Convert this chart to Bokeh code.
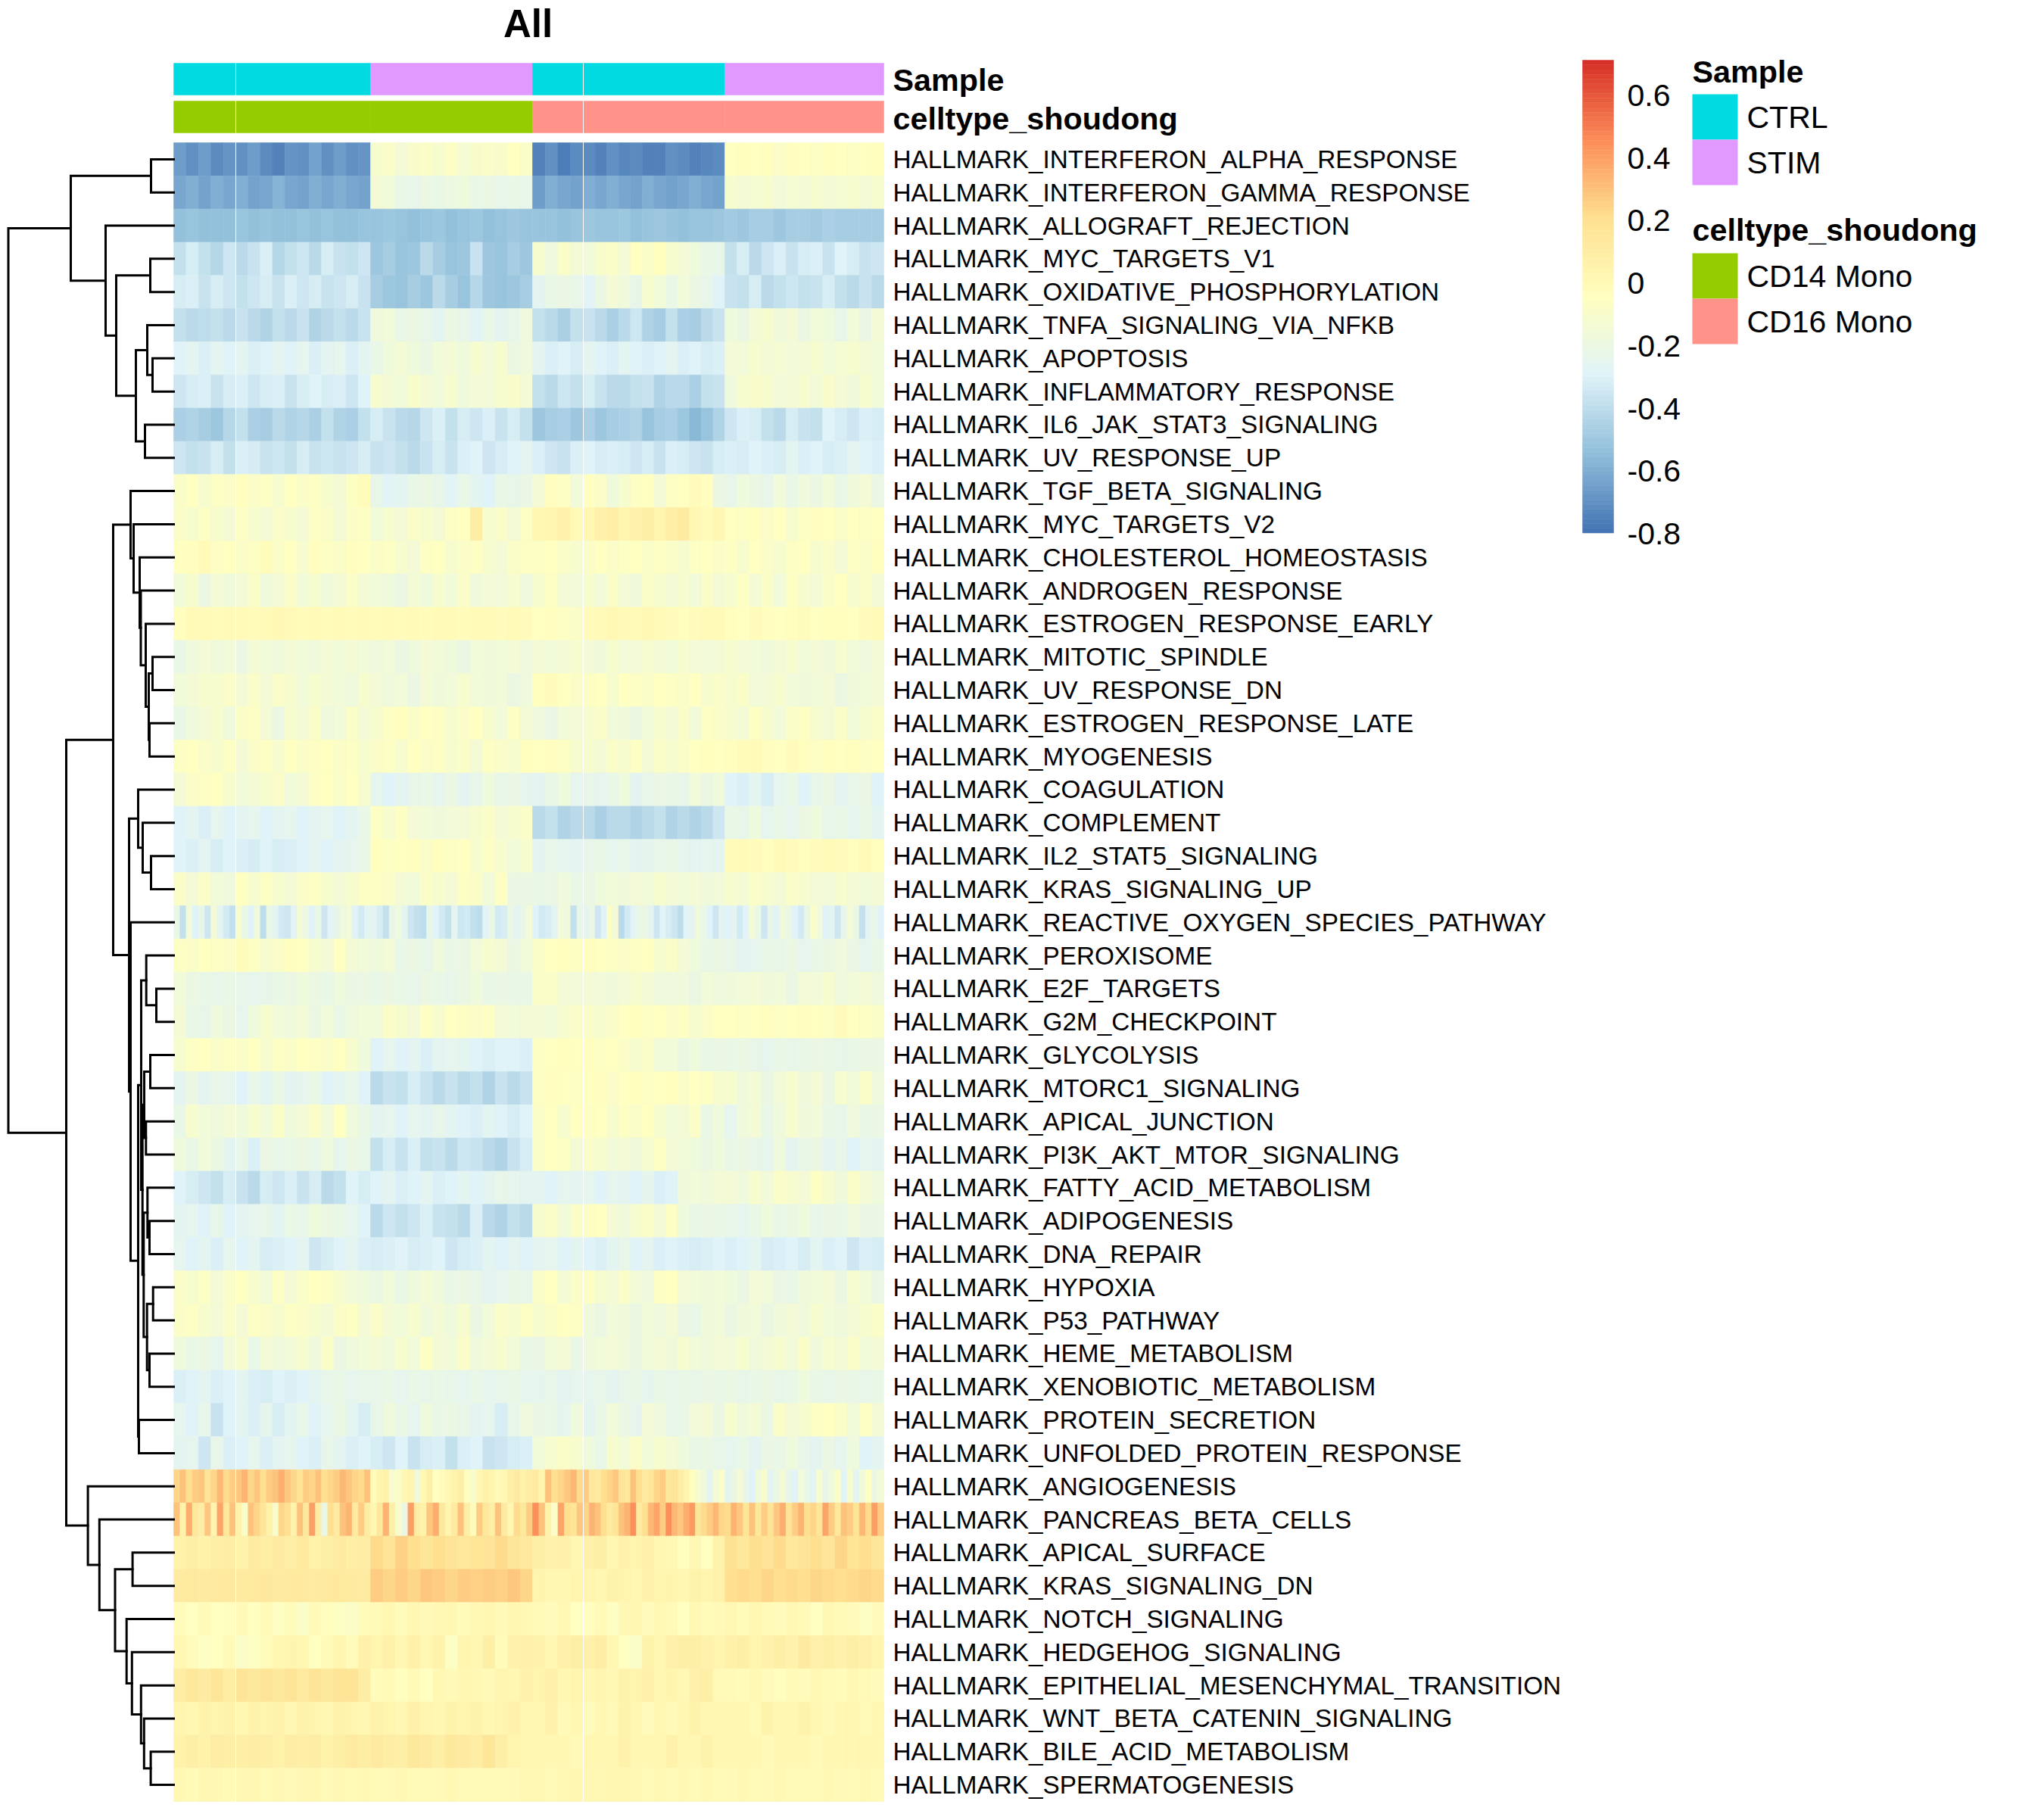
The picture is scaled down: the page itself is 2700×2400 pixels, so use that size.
from bokeh.plotting import figure
from bokeh.models import Range1d, ColumnDataSource, LinearColorMapper
from bokeh.transform import transform
from bokeh.core.properties import value
from bokeh.embed import file_html
from bokeh.resources import INLINE
import numpy as np

TITLE = "All"
ANNOT_NAMES = ["Sample", "celltype_shoudong"]
BLOCK_CELLS = [82, 178, 214, 67, 187, 210]
SAMPLE_OF_BLOCK = ["CTRL", "CTRL", "STIM", "CTRL", "CTRL", "STIM"]
TYPE_OF_BLOCK = ["CD14 Mono", "CD14 Mono", "CD14 Mono", "CD16 Mono", "CD16 Mono", "CD16 Mono"]
SAMPLE_LEVELS = ["CTRL", "STIM"]
SAMPLE_COLORS = ["#00DAE0", "#E199FF"]
TYPE_LEVELS = ["CD14 Mono", "CD16 Mono"]
TYPE_COLORS = ["#95CC00", "#FF9289"]
SCALE_LOW = -0.8
SCALE_HIGH = 0.71
SCALE_TICKS = [0.6, 0.4, 0.2, 0.0, -0.2, -0.4, -0.6, -0.8]
BREWER = ["#4575B4", "#91BFDB", "#E0F3F8", "#FFFFBF", "#FEE090", "#FC8D59", "#D73027"]

# Scores in hundredths, averaged by eye over short runs of cells, one list per column block
INTERFERON_ALPHA = [[-66,-70,-66,-72,-68],[-70,-66,-72,-74,-68,-70,-64,-70,-66,-70,-68],[-11,-8,-15,-10,-9,-11,-7,-13,-10,-8,-10,-6,-8],[-74,-70,-76,-72],[-72,-74,-70,-73,-71,-75,-74,-70,-72,-74,-73,-72],[-5,-3,-6,-3,-8,-4,-6,-7,-3,-5,-7,-6,-3]]
INTERFERON_GAMMA = [[-62,-60,-64,-60,-62],[-60,-64,-62,-58,-62,-64,-60,-62,-60,-62,-64],[-14,-16,-22,-24,-20,-22,-19,-18,-22,-20,-24,-22,-24],[-66,-60,-62,-64],[-60,-62,-60,-62,-64,-60,-62,-64,-62,-60,-63,-64],[-12,-14,-13,-12,-16,-13,-14,-12,-14,-13,-11,-14,-12]]
ALLOGRAFT = [[-53,-52,-54,-53,-53],[-52,-54,-52,-53,-54,-52,-53,-52,-54,-53,-52],[-52,-50,-52,-53,-52,-50,-53,-52,-51,-53,-52,-50,-52],[-52,-52,-53,-52],[-51,-52,-52,-51,-53,-52,-51,-52,-53,-52,-52,-51],[-49,-50,-47,-48,-50,-47,-48,-49,-46,-48,-47,-48,-47]]
MYC_V1 = [[-38,-33,-39,-43,-36],[-41,-37,-31,-43,-39,-35,-41,-33,-37,-39,-35],[-50,-48,-52,-50,-42,-48,-52,-50,-37,-50,-52,-48,-50],[-11,-18,-9,-14],[-16,-10,-8,-14,-5,-9,-3,-12,-14,-18,-22,-24],[-39,-33,-41,-35,-31,-37,-33,-31,-37,-29,-33,-37,-35]]
OXPHOS = [[-33,-31,-37,-33,-35],[-39,-35,-33,-37,-31,-35,-33,-37,-35,-33,-37],[-48,-50,-52,-47,-50,-41,-47,-52,-43,-50,-52,-50,-47],[-26,-22,-20,-24],[-28,-20,-14,-18,-24,-12,-16,-22,-16,-20,-24,-29],[-37,-39,-33,-41,-39,-35,-39,-37,-33,-39,-41,-37,-41]]
TNFA = [[-38,-42,-40,-38,-42],[-37,-41,-44,-39,-41,-37,-44,-42,-39,-41,-37],[-18,-16,-22,-20,-24,-26,-20,-24,-28,-22,-26,-24,-18],[-39,-42,-46,-39],[-37,-41,-46,-41,-35,-44,-48,-39,-46,-48,-41,-37],[-18,-20,-14,-12,-18,-14,-20,-16,-18,-24,-16,-20,-14]]
APOPTOSIS = [[-29,-27,-31,-27,-29],[-27,-31,-29,-27,-29,-25,-31,-27,-25,-31,-27],[-22,-18,-14,-18,-20,-16,-14,-18,-12,-16,-12,-20,-18],[-27,-31,-29,-33],[-27,-29,-31,-27,-29,-31,-29,-27,-31,-29,-33,-31],[-14,-16,-12,-14,-13,-16,-14,-12,-16,-13,-12,-14,-16]]
INFLAMMATORY = [[-35,-33,-31,-37,-33],[-31,-35,-33,-31,-37,-33,-29,-33,-31,-35,-29],[-12,-14,-16,-10,-14,-16,-12,-18,-14,-16,-12,-10,-14],[-39,-41,-35,-39],[-33,-37,-41,-42,-39,-37,-44,-42,-41,-46,-39,-37],[-18,-12,-10,-12,-16,-14,-12,-16,-10,-14,-18,-12,-16]]
IL6 = [[-46,-44,-48,-50,-43],[-39,-46,-48,-41,-44,-43,-46,-39,-44,-46,-39],[-33,-37,-41,-43,-35,-31,-39,-33,-35,-31,-37,-33,-39],[-50,-48,-46,-50],[-46,-50,-48,-46,-44,-52,-48,-46,-50,-56,-52,-44],[-35,-31,-33,-39,-41,-33,-37,-39,-29,-33,-35,-31,-33]]
UV_UP = [[-35,-39,-37,-33,-39],[-31,-33,-37,-35,-39,-33,-37,-35,-37,-35,-33],[-37,-35,-39,-41,-37,-33,-37,-31,-29,-35,-33,-29,-27],[-31,-35,-37,-31],[-29,-33,-31,-33,-35,-33,-37,-31,-33,-35,-37,-33],[-31,-33,-29,-31,-33,-27,-31,-29,-33,-31,-27,-29,-31]]
TGF_BETA = [[-9,-5,-12,-7,-9],[-3,-9,-7,-12,-5,-9,-7,-12,-14,-7,-2],[-24,-28,-26,-22,-20,-24,-28,-22,-26,-29,-22,-24,-20],[-14,-3,-7,-16],[-5,-9,-18,-12,-7,-5,-14,-7,-5,-2,-3,-20],[-24,-18,-20,-24,-16,-22,-18,-20,-16,-22,-18,-14,-20]]
MYC_V2 = [[-9,-12,-7,-12,-14],[-7,-12,-14,-9,-12,-14,-7,-9,-14,-9,-7],[-16,-12,-14,-9,-12,-14,-7,-5,10,-12,-9,-14,-7],[2,4,5,0],[3,7,8,4,5,9,4,8,11,2,-2,3],[-5,-7,-3,-9,-5,-12,-7,-3,-5,-9,-5,-7,-5]]
CHOLESTEROL = [[-5,-3,0,-7,-5],[-9,-7,-2,-9,-5,-12,-3,-7,-9,-3,-5],[-9,-7,-12,-14,-7,-5,-12,-9,-7,-12,-14,-9,-7],[-7,-5,-9,-12],[-9,-5,-9,-7,-5,-9,-7,-9,-12,-7,-5,-9],[-7,-12,-5,-9,-12,-7,-5,-12,-9,-14,-7,-9,-3]]
ANDROGEN = [[-16,-12,-20,-14,-18],[-14,-9,-18,-14,-9,-16,-12,-18,-14,-9,-14],[-16,-18,-20,-14,-18,-12,-16,-9,-18,-14,-16,-12,-18],[-12,-7,-14,-16],[-12,-16,-9,-14,-18,-9,-12,-14,-12,-16,-9,-14],[-12,-7,-14,-9,-16,-7,-12,-14,-9,-5,-12,-9,-14]]
ESTROGEN_EARLY = [[-3,-1,0,-2,0],[-1,-2,0,1,0,-2,-1,-2,0,-2,-1],[-2,0,-2,-1,-2,0,-1,-2,0,-1,-2,-1,-2],[-5,-3,-7,-9],[-2,0,1,-1,0,1,-1,-2,-3,-2,0,0],[-3,-5,-2,-3,-5,-3,-2,-5,-3,-3,-5,-2,-1]]
MITOTIC = [[-22,-18,-14,-18,-16],[-20,-14,-16,-18,-14,-16,-18,-14,-16,-14,-16],[-18,-16,-20,-18,-14,-16,-18,-20,-16,-18,-16,-14,-18],[-14,-16,-14,-12],[-14,-18,-12,-16,-14,-12,-14,-16,-12,-14,-16,-14],[-12,-14,-16,-18,-14,-12,-16,-14,-18,-12,-16,-18,-14]]
UV_DN = [[-16,-14,-12,-12,-9],[-14,-9,-14,-9,-12,-16,-12,-14,-16,-18,-12],[-14,-18,-16,-20,-14,-18,-16,-12,-16,-18,-16,-20,-18],[-3,-2,-5,-9],[-7,-5,-12,-5,-7,-9,-5,-7,-9,-5,-12,-9],[-12,-9,-16,-14,-12,-16,-18,-16,-14,-20,-18,-16,-14]]
ESTROGEN_LATE = [[-22,-18,-14,-12,-18],[-9,-7,-14,-20,-12,-14,-9,-18,-16,-9,-14],[-12,-7,-3,-9,-5,-7,-12,-9,-5,-12,-16,-7,-14],[-18,-20,-16,-14],[-12,-9,-16,-18,-20,-16,-12,-14,-9,-16,-7,-9],[-12,-14,-7,-12,-16,-9,-7,-12,-14,-9,-16,-12,-9]]
MYOGENESIS = [[-7,-5,-9,-12,-7],[-14,-9,-7,-12,-5,-9,-7,-5,-9,-7,-12],[-9,-7,-12,-5,-9,-7,-12,-9,-14,-7,-9,-12,-3],[-5,-3,-7,-12],[-12,-14,-9,-12,-7,-14,-9,-12,-9,-5,-3,-5],[-3,-2,0,-3,-5,-2,-3,-7,-3,-5,-3,-7,-5]]
COAGULATION = [[-14,-9,-7,-5,-12],[-16,-14,-12,-9,-16,-14,-7,-5,-9,-5,-12],[-25,-29,-27,-24,-22,-25,-20,-27,-24,-18,-24,-20,-25],[-27,-22,-18,-25],[-24,-25,-22,-18,-27,-24,-20,-22,-24,-16,-20,-18],[-29,-31,-27,-33,-25,-22,-29,-24,-20,-27,-24,-20,-29]]
COMPLEMENT = [[-29,-27,-31,-25,-29],[-27,-25,-29,-27,-25,-29,-27,-25,-29,-27,-22],[-7,-12,-7,-14,-16,-18,-16,-14,-12,-9,-14,-12,-9],[-42,-39,-44,-41],[-42,-46,-42,-41,-44,-42,-39,-44,-41,-44,-41,-35],[-22,-24,-18,-25,-22,-25,-20,-18,-24,-22,-25,-22,-27]]
IL2_STAT5 = [[-29,-31,-27,-33,-29],[-31,-33,-29,-33,-31,-29,-27,-29,-27,-25,-22],[-3,-7,-5,-3,-9,-3,-7,-5,-12,-7,-12,-16,-12],[-27,-24,-25,-27],[-24,-22,-25,-24,-27,-25,-24,-22,-25,-27,-25,-27],[-2,0,-2,-3,0,-2,-3,-2,0,-2,-3,0,-3]]
KRAS_UP = [[-9,-14,-9,-16,-18],[-5,-12,-7,-12,-14,-9,-7,-12,-14,-12,-7],[-7,-9,-14,-16,-9,-12,-14,-7,-9,-16,-7,-20,-20],[-22,-20,-18,-22],[-20,-18,-16,-18,-14,-16,-12,-14,-16,-14,-18,-16],[-12,-14,-9,-12,-14,-9,-12,-14,-16,-12,-14,-16,-14]]
ROS = [[-22,-38,-16,-30,-24,-36,-14,-26,-34,-38],[-12,-22,-30,-18,-40,-22,-26,-34,-36,-28,-14,-20,-30,-22,-36,-28,-24,-18,-16,-30,-34,-26],[-26,-32,-38,-24,-18,-26,-36,-38,-40,-24,-30,-34,-38,-26,-36,-34,-38,-40,-28,-22,-34,-32,-20,-26,-22,-14],[-30,-34,-32,-26,-16,-18,-38,-24],[-26,-20,-36,-30,-8,-14,-42,-34,-28,-22,-20,-26,-36,-28,-32,-36,-40,-28,-26,-18,-22,-30,-36,-26],[-30,-26,-34,-28,-14,-22,-36,-24,-28,-18,-20,-30,-34,-24,-8,-16,-30,-26,-36,-24,-14,-22,-38,-26,-24,-30]]
PEROXISOME = [[-7,-9,-5,-7,-9],[-2,-7,-12,-9,-3,-5,-12,-14,-5,-14,-16],[-18,-14,-22,-20,-24,-18,-22,-20,-16,-12,-14,-20,-16],[-9,-5,-3,-7],[-3,-5,-7,-9,-7,-5,-12,-9,-14,-18,-22,-20],[-24,-27,-25,-22,-24,-20,-25,-22,-20,-18,-20,-25,-22]]
E2F = [[-16,-20,-22,-24,-22],[-24,-25,-24,-22,-20,-18,-20,-22,-18,-20,-20],[-22,-20,-22,-24,-20,-22,-24,-20,-18,-22,-20,-22,-22],[-9,-9,-14,-16],[-14,-16,-18,-14,-12,-14,-18,-18,-18,-20,-16,-18],[-18,-16,-14,-18,-16,-20,-14,-16,-12,-18,-16,-14,-18]]
G2M = [[-14,-22,-24,-18,-20],[-25,-18,-12,-16,-18,-14,-20,-16,-22,-18,-16],[-16,-9,-12,-14,-7,-12,-5,-7,-9,-7,-14,-16,-14],[-14,-16,-12,-9],[-9,-12,-9,-5,-3,-7,-5,-9,-7,-12,-9,-5],[-5,-7,-5,-3,-7,-5,-3,-5,-7,-2,-5,-7,-9]]
GLYCOLYSIS = [[-12,-7,-5,-9,-7],[-9,-5,-12,-7,-9,-5,-7,-9,-5,-12,-18],[-29,-25,-29,-27,-31,-27,-25,-27,-29,-31,-29,-29,-31],[-7,-5,-3,-5],[-3,-7,-5,-9,-12,-9,-16,-16,-20,-18,-22,-20],[-22,-20,-24,-25,-22,-24,-22,-20,-22,-24,-22,-20,-20]]
MTORC1 = [[-27,-20,-27,-24,-25],[-29,-24,-27,-22,-27,-25,-22,-29,-27,-24,-29],[-41,-37,-39,-33,-37,-41,-37,-42,-39,-44,-37,-42,-37],[-7,-3,-5,-7],[-5,-3,-9,-5,-3,-7,-5,-3,-9,-5,-7,-12],[-12,-18,-14,-20,-16,-12,-18,-14,-20,-12,-16,-9,-18]]
APICAL_JUNCTION = [[-22,-12,-16,-18,-14],[-18,-12,-16,-9,-18,-14,-9,-16,-5,-18,-22],[-27,-25,-29,-25,-27,-24,-27,-29,-31,-27,-29,-33,-29],[-9,-5,-12,-5],[-7,-5,-12,-7,-9,-5,-12,-16,-14,-9,-22,-18],[-25,-18,-14,-22,-18,-12,-18,-16,-22,-24,-18,-22,-20]]
PI3K = [[-18,-22,-16,-20,-27],[-24,-31,-20,-24,-22,-20,-24,-18,-25,-20,-24],[-39,-33,-37,-31,-39,-37,-42,-35,-37,-41,-44,-37,-33],[-9,-5,-7,-14],[-9,-12,-16,-14,-18,-12,-7,-14,-16,-18,-20,-18],[-22,-20,-24,-25,-18,-27,-22,-20,-27,-24,-29,-25,-27]]
FATTY_ACID = [[-29,-33,-35,-39,-33],[-37,-41,-33,-35,-31,-37,-33,-42,-39,-29,-33],[-29,-27,-31,-29,-27,-31,-29,-27,-29,-27,-24,-25,-27],[-27,-29,-25,-27],[-25,-29,-25,-27,-29,-25,-31,-29,-18,-16,-18,-14],[-14,-18,-12,-16,-9,-12,-14,-7,-12,-18,-9,-14,-18]]
ADIPOGENESIS = [[-27,-25,-29,-24,-29],[-27,-25,-24,-27,-22,-24,-18,-20,-22,-25,-29],[-41,-35,-39,-35,-31,-37,-39,-41,-31,-41,-44,-39,-41],[-12,-9,-16,-9],[-7,-5,-14,-18,-12,-9,-14,-7,-18,-22,-20,-22],[-24,-25,-22,-18,-22,-20,-18,-24,-20,-22,-18,-20,-20]]
DNA_REPAIR = [[-25,-29,-27,-31,-25],[-29,-27,-33,-31,-29,-27,-35,-33,-29,-27,-31],[-33,-31,-29,-33,-31,-29,-35,-33,-31,-27,-29,-27,-29],[-27,-25,-29,-27],[-29,-31,-27,-24,-29,-27,-31,-29,-31,-33,-31,-29],[-31,-29,-27,-33,-31,-29,-33,-27,-31,-29,-35,-31,-33]]
HYPOXIA = [[-9,-12,-7,-14,-9],[-5,-12,-16,-7,-14,-9,-5,-7,-12,-16,-18],[-20,-16,-22,-18,-14,-18,-22,-20,-24,-27,-25,-22,-24],[-9,-5,-14,-9],[-7,-12,-14,-9,-16,-18,-7,-5,-14,-16,-18,-16],[-18,-20,-14,-16,-20,-22,-18,-16,-14,-20,-12,-16,-20]]
P53 = [[-9,-7,-12,-14,-9],[-14,-7,-9,-12,-7,-9,-12,-14,-9,-7,-14],[-9,-14,-16,-12,-18,-14,-18,-12,-20,-16,-9,-12,-7],[-12,-9,-5,-7],[-18,-20,-16,-18,-20,-16,-18,-14,-20,-22,-18,-16],[-20,-18,-16,-20,-18,-14,-18,-12,-16,-18,-14,-12,-9]]
HEME = [[-18,-22,-20,-25,-16],[-12,-22,-14,-18,-16,-12,-18,-9,-20,-18,-16],[-14,-18,-12,-16,-7,-14,-16,-9,-18,-14,-12,-16,-22],[-20,-16,-14,-22],[-18,-16,-14,-18,-20,-16,-14,-18,-12,-16,-18,-14],[-16,-12,-18,-14,-12,-16,-9,-18,-12,-14,-9,-16,-14]]
XENOBIOTIC = [[-31,-29,-27,-31,-29],[-27,-31,-33,-29,-31,-29,-27,-24,-22,-25,-24],[-24,-22,-25,-22,-24,-22,-24,-25,-22,-25,-24,-22,-25],[-25,-24,-27,-25],[-25,-24,-27,-24,-22,-25,-22,-24,-22,-24,-20,-22],[-20,-24,-22,-20,-24,-22,-18,-22,-24,-20,-22,-24,-22]]
PROTEIN_SECRETION = [[-25,-29,-24,-37,-29],[-27,-31,-25,-33,-27,-24,-29,-25,-20,-27,-33],[-24,-18,-22,-25,-18,-22,-20,-24,-27,-25,-33,-24,-18],[-20,-22,-25,-18],[-27,-22,-16,-20,-25,-14,-18,-24,-22,-16,-14,-20],[-12,-18,-14,-20,-9,-14,-12,-7,-5,-9,-16,-7,-14]]
UPR = [[-27,-25,-35,-24,-31],[-29,-25,-31,-27,-25,-29,-31,-24,-27,-31,-29],[-33,-35,-29,-37,-33,-31,-39,-31,-29,-37,-35,-33,-31],[-16,-12,-9,-12],[-18,-22,-12,-16,-9,-16,-12,-14,-18,-22,-20,-24],[-25,-22,-27,-20,-22,-18,-24,-27,-20,-25,-18,-29,-27]]
ANGIOGENESIS = [[24,30,20,26,28,18,24,32,22,26],[28,34,24,28,20,26,30,36,28,24,18,26,24,30,20,24,26,32,28,24,22,30],[-2,4,6,-12,-8,2,4,-18,2,8,-6,-2,2,6,8,-4,-10,2,6,4,0,2,8,12,6,10],[12,4,30,20,24,28,32,22],[26,14,12,20,24,28,18,14,30,20,12,16,24,26,14,18,10,4,-4,-12,-18,-26,-14,-8],[-26,-20,-14,-24,-30,-18,-10,-26,-20,-14,-24,-30,-16,-22,-28,-12,-24,-18,-8,-28,-12,-26,-16,-6,-20,-14]]
PANCREAS_BETA = [[30,6,36,14,10,28,4,38,14,30],[6,-8,30,24,16,6,-10,24,20,6,30,14,40,10,-22,20,12,30,34,12,26,10],[2,14,34,8,-10,-20,40,10,6,28,36,14,4,12,30,8,-2,26,14,8,30,12,2,22,14,26],[44,30,6,-8,38,20,16,28],[24,34,30,20,12,16,30,34,44,12,20,32,38,26,44,32,28,36,42,16,22,26,32,24],[22,34,28,16,30,14,26,18,28,36,18,26,34,20,24,16,38,26,14,30,26,18,32,22,40,26]]
APICAL_SURFACE = [[6,8,5,9,10],[6,12,8,11,9,13,6,8,11,9,10],[22,18,25,20,16,21,18,14,16,18,22,16,13],[8,6,7,3],[7,8,3,6,4,7,3,1,-3,1,-6,5],[19,15,20,17,22,15,18,20,16,23,18,21,16]]
KRAS_DN = [[12,13,12,13,13],[12,13,13,12,13,13,12,13,13,12,11],[26,24,26,24,28,26,24,26,25,27,25,28,24],[4,3,2,4],[4,3,5,4,2,5,4,4,3,5,4,6],[20,22,21,23,20,22,21,23,22,20,22,23,22]]
NOTCH = [[-2,-6,-1,-5,-3],[-1,-5,0,-7,-2,-9,-1,-3,-7,-9,-2],[0,2,-2,3,0,1,3,-2,1,2,0,3,1],[0,-2,1,-5],[-3,0,-7,1,2,-2,1,0,-5,1,-2,0],[1,-2,2,0,-2,1,0,-5,1,0,-2,-7,-2]]
HEDGEHOG = [[2,-2,-7,-5,0],[-9,-7,-2,3,4,2,-5,0,4,-2,7],[4,7,2,7,3,5,-7,4,2,8,-2,5,7],[5,2,7,8],[7,10,3,-5,-9,5,3,7,8,9,5,4],[7,9,4,5,9,5,11,7,9,5,8,7,4]]
EMT = [[10,14,12,16,10],[17,15,18,15,17,13,17,15,18,17,10],[-2,0,-3,0,-5,1,0,3,1,0,4,3,5],[4,7,3,4],[3,4,1,5,4,7,3,4,1,7,8,0],[0,-2,1,-2,-3,0,-2,1,0,-2,1,0,-2]]
WNT = [[4,2,5,4,6],[2,5,4,6,2,5,4,2,6,4,2],[5,4,2,7,4,2,5,4,6,2,4,5,2],[2,5,0,2],[-2,3,0,5,2,-2,3,0,3,5,2,3],[3,2,0,5,3,2,5,2,0,3,2,0,3]]
BILE_ACID = [[6,8,6,10,8],[8,10,8,6,10,8,10,6,8,12,10],[12,10,8,14,12,8,14,12,10,16,8,4,2],[3,2,3,0],[2,3,2,5,3,2,3,5,2,3,5,2],[2,3,2,0,3,2,3,0,2,3,2,3,2]]
SPERMATOGENESIS = [[1,0,2,1,0],[1,2,0,1,0,1,2,0,1,0,1],[-1,0,1,-1,0,-1,1,0,-1,0,-1,0,1],[1,0,1,2],[2,1,3,2,1,0,1,0,1,0,1,0],[0,1,-1,0,1,0,-1,0,1,-1,0,1,0]]

PATHWAYS = [
    ("HALLMARK_INTERFERON_ALPHA_RESPONSE", INTERFERON_ALPHA), ("HALLMARK_INTERFERON_GAMMA_RESPONSE", INTERFERON_GAMMA),
    ("HALLMARK_ALLOGRAFT_REJECTION", ALLOGRAFT), ("HALLMARK_MYC_TARGETS_V1", MYC_V1),
    ("HALLMARK_OXIDATIVE_PHOSPHORYLATION", OXPHOS), ("HALLMARK_TNFA_SIGNALING_VIA_NFKB", TNFA),
    ("HALLMARK_APOPTOSIS", APOPTOSIS), ("HALLMARK_INFLAMMATORY_RESPONSE", INFLAMMATORY),
    ("HALLMARK_IL6_JAK_STAT3_SIGNALING", IL6), ("HALLMARK_UV_RESPONSE_UP", UV_UP),
    ("HALLMARK_TGF_BETA_SIGNALING", TGF_BETA), ("HALLMARK_MYC_TARGETS_V2", MYC_V2),
    ("HALLMARK_CHOLESTEROL_HOMEOSTASIS", CHOLESTEROL), ("HALLMARK_ANDROGEN_RESPONSE", ANDROGEN),
    ("HALLMARK_ESTROGEN_RESPONSE_EARLY", ESTROGEN_EARLY), ("HALLMARK_MITOTIC_SPINDLE", MITOTIC),
    ("HALLMARK_UV_RESPONSE_DN", UV_DN), ("HALLMARK_ESTROGEN_RESPONSE_LATE", ESTROGEN_LATE),
    ("HALLMARK_MYOGENESIS", MYOGENESIS), ("HALLMARK_COAGULATION", COAGULATION),
    ("HALLMARK_COMPLEMENT", COMPLEMENT), ("HALLMARK_IL2_STAT5_SIGNALING", IL2_STAT5),
    ("HALLMARK_KRAS_SIGNALING_UP", KRAS_UP), ("HALLMARK_REACTIVE_OXYGEN_SPECIES_PATHWAY", ROS),
    ("HALLMARK_PEROXISOME", PEROXISOME), ("HALLMARK_E2F_TARGETS", E2F),
    ("HALLMARK_G2M_CHECKPOINT", G2M), ("HALLMARK_GLYCOLYSIS", GLYCOLYSIS),
    ("HALLMARK_MTORC1_SIGNALING", MTORC1), ("HALLMARK_APICAL_JUNCTION", APICAL_JUNCTION),
    ("HALLMARK_PI3K_AKT_MTOR_SIGNALING", PI3K), ("HALLMARK_FATTY_ACID_METABOLISM", FATTY_ACID),
    ("HALLMARK_ADIPOGENESIS", ADIPOGENESIS), ("HALLMARK_DNA_REPAIR", DNA_REPAIR),
    ("HALLMARK_HYPOXIA", HYPOXIA), ("HALLMARK_P53_PATHWAY", P53),
    ("HALLMARK_HEME_METABOLISM", HEME), ("HALLMARK_XENOBIOTIC_METABOLISM", XENOBIOTIC),
    ("HALLMARK_PROTEIN_SECRETION", PROTEIN_SECRETION), ("HALLMARK_UNFOLDED_PROTEIN_RESPONSE", UPR),
    ("HALLMARK_ANGIOGENESIS", ANGIOGENESIS), ("HALLMARK_PANCREAS_BETA_CELLS", PANCREAS_BETA),
    ("HALLMARK_APICAL_SURFACE", APICAL_SURFACE), ("HALLMARK_KRAS_SIGNALING_DN", KRAS_DN),
    ("HALLMARK_NOTCH_SIGNALING", NOTCH), ("HALLMARK_HEDGEHOG_SIGNALING", HEDGEHOG),
    ("HALLMARK_EPITHELIAL_MESENCHYMAL_TRANSITION", EMT), ("HALLMARK_WNT_BETA_CATENIN_SIGNALING", WNT),
    ("HALLMARK_BILE_ACID_METABOLISM", BILE_ACID), ("HALLMARK_SPERMATOGENESIS", SPERMATOGENESIS),
]

# Row tree: (merge height, upper branch, lower branch); an int is a row index
DENDRO = (218.5,
    (136, (30, 0, 1),
          (90, 2, (76, (31, 3, 4),
                       (50, (35, 5, (28, 6, 7)), (38, 8, 9))))),
    (142,
        (80,
            (57, 10, (53, 11, (45, 12, (43.5, 13, (37, 14, (33, (28, 15, 16), (32, 17, 18))))))),
            (59,
                (47, 19, (41, 20, (30, 21, 22))),
                (57, 23,
                    (47,
                        (43, (36.3, 24, (23, 25, 26)),
                             (41.3, (39, (31, 27, 28), (36.7, 29, 30)),
                                    (39.7, (34.7, 31, (32, 32, 33)),
                                           (35.3, (27.3, 34, 35), (32, 36, 37))))),
                        (46, 38, 39))))),
        (113.4, 40,
            (98.2, 41,
                (77.5, (54.4, 42, 43),
                    (62.3, 44, (55.2, 45, (43.2, 46, (39.2, 47, (30.4, 48, 49))))))))))

# Page layout in picture pixels
LEFT, TOP, BOTTOM = 229.0, 188.0, 2379.0
W, H = 2684, 2384
p = figure(width=W, height=H, x_range=Range1d(0, W), y_range=Range1d(H, 0),
           output_backend="svg", toolbar_location=None, min_border=0, outline_line_color=None)
p.axis.visible = False
p.grid.visible = False
p.background_fill_color = "white"

FONT = value("Liberation Sans")
def label(x, y, s, size, bold=False, align="left"):
    p.text([x], [y], text=[s], text_font=FONT, text_font_size=f"{size}px",
           text_font_style="bold" if bold else "normal", text_align=align,
           text_baseline="middle", text_color="black")

def ramp(colors, n):
    rgb = np.array([[int(c[i:i + 2], 16) for i in (1, 3, 5)] for c in colors], float)
    t = np.linspace(0, len(colors) - 1, n)
    out = np.stack([np.interp(t, np.arange(len(colors)), rgb[:, k]) for k in range(3)], 1)
    return ["#%02x%02x%02x" % tuple(int(round(v)) for v in row) for row in out]
PALETTE = ramp(BREWER, 100)
mapper = LinearColorMapper(palette=PALETTE, low=SCALE_LOW, high=SCALE_HIGH)

# Heatmap
row_h = (BOTTOM - TOP) / len(PATHWAYS)
cols = dict(l=[], r=[], t=[], b=[], v=[])
for i, (_, blocks) in enumerate(PATHWAYS):
    x0 = LEFT
    for w, vals in zip(BLOCK_CELLS, blocks):
        step = w / len(vals)
        for k, v in enumerate(vals):
            cols["l"].append(x0 + k * step)
            cols["r"].append(x0 + (k + 1) * step)
            cols["t"].append(TOP + i * row_h)
            cols["b"].append(TOP + (i + 1) * row_h)
            cols["v"].append(v / 100)
        x0 += w
cm = transform("v", mapper)
p.quad(left="l", right="r", top="t", bottom="b", source=ColumnDataSource(cols),
       fill_color=cm, line_color=cm, line_width=0.6)

# Annotation tracks
edges = np.concatenate([[0], np.cumsum(BLOCK_CELLS)]) + LEFT
tracks = [(83, 125, SAMPLE_OF_BLOCK, dict(zip(SAMPLE_LEVELS, SAMPLE_COLORS))),
          (133, 175, TYPE_OF_BLOCK, dict(zip(TYPE_LEVELS, TYPE_COLORS)))]
for (t, b, cats, cmap), name, yl in zip(tracks, ANNOT_NAMES, [105, 156]):
    p.quad(left=edges[:-1], right=edges[1:], top=t, bottom=b, fill_color=[cmap[c] for c in cats],
           line_color=[cmap[c] for c in cats], line_width=0.5)
    label(1179, yl, name, 41.3, bold=True)

# White seam between the sample runs
for e in (edges[1], edges[4]):
    p.segment([e], [83], [e], [BOTTOM], line_color="white", line_width=1)

# Row labels
for i, (name, _) in enumerate(PATHWAYS):
    label(1179, TOP + (i + 0.5) * row_h, name, 33.3)

# Dendrogram
xs, ys = [], []
def walk(node):
    if isinstance(node, int):
        return LEFT, TOP + (node + 0.5) * row_h
    h, a, b = node
    xa, ya = walk(a)
    xb, yb = walk(b)
    x = LEFT - h
    xs.append([xa, x, x, xb])
    ys.append([ya, ya, yb, yb])
    return x, (ya + yb) / 2
walk(DENDRO)
p.multi_line(xs, ys, line_color="black", line_width=3, line_join="miter", line_cap="square")

# Colour bar
CB_L, CB_R, CB_T, CB_B = 2090, 2131, 79, 703.5
levels = np.linspace(SCALE_HIGH, SCALE_LOW, 101)
to_y = lambda v: CB_T + (SCALE_HIGH - v) / (SCALE_HIGH - SCALE_LOW) * (CB_B - CB_T)
p.quad(left=CB_L, right=CB_R, top=[to_y(v) for v in levels[:-1]], bottom=[to_y(v) for v in levels[1:]],
       fill_color=PALETTE[::-1], line_color=PALETTE[::-1], line_width=0.5)
for v in SCALE_TICKS:
    label(2149, to_y(v) + 1, "0" if v == 0 else f"{v:g}", 41)

# Discrete legends
def legend(title, y_title, y0, levels, colors):
    label(2235, y_title, title, 41.3, bold=True)
    for j, (lv, c) in enumerate(zip(levels, colors)):
        p.quad(left=[2235], right=[2295], top=[y0 + j * 60], bottom=[y0 + (j + 1) * 60],
               fill_color=c, line_color=None)
        label(2307, y0 + (j + 0.5) * 60, lv, 41)
legend("Sample", 94, 124, SAMPLE_LEVELS, SAMPLE_COLORS)
legend("celltype_shoudong", 303, 334, TYPE_LEVELS, TYPE_COLORS)

label(697, 31, TITLE, 51, bold=True, align="center")

open("out.html", "w").write(file_html(p, INLINE))
